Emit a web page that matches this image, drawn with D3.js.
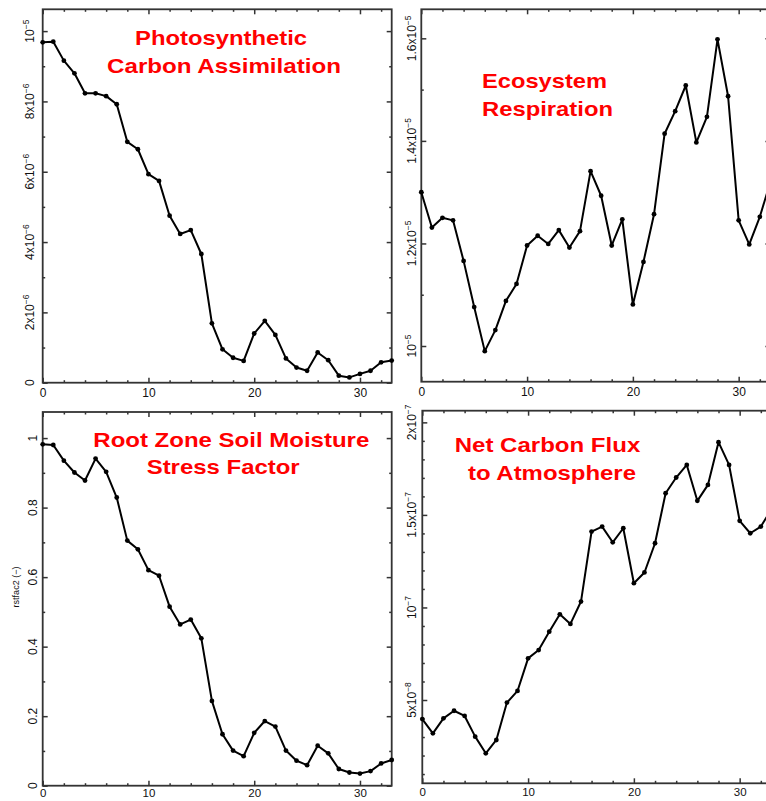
<!DOCTYPE html>
<html><head><meta charset="utf-8">
<script src="https://cdn.jsdelivr.net/npm/d3@7"></script>
<style>body{margin:0;background:#fff}svg{display:block}</style>
</head><body><svg id="chart" width="766" height="801"></svg>
<script>
// ---------- data ----------
const days = [0,1,2,3,4,5,6,7,8,9,10,11,12,13,14,15,16,17,18,19,20,21,22,23,24,25,26,27,28,29,30,31,32,33];

const photoValues = [9.68e-6,9.70e-6,9.16e-6,8.80e-6,8.23e-6,8.23e-6,8.15e-6,7.92e-6,6.85e-6,6.64e-6,5.93e-6,5.74e-6,4.75e-6,4.23e-6,4.34e-6,3.66e-6,1.69e-6,0.95e-6,0.71e-6,0.62e-6,1.40e-6,1.76e-6,1.36e-6,0.69e-6,0.43e-6,0.34e-6,0.86e-6,0.64e-6,0.20e-6,0.15e-6,0.25e-6,0.34e-6,0.58e-6,0.63e-6];

const respValues = [1.300e-5,1.231e-5,1.250e-5,1.245e-5,1.166e-5,1.076e-5,0.990e-5,1.031e-5,1.088e-5,1.121e-5,1.196e-5,1.215e-5,1.199e-5,1.226e-5,1.192e-5,1.224e-5,1.341e-5,1.293e-5,1.196e-5,1.247e-5,1.081e-5,1.164e-5,1.257e-5,1.414e-5,1.458e-5,1.508e-5,1.397e-5,1.447e-5,1.598e-5,1.487e-5,1.245e-5,1.198e-5,1.252e-5,1.320e-5];

const rstfacValues = [0.982,0.980,0.935,0.901,0.878,0.941,0.903,0.829,0.705,0.680,0.620,0.604,0.515,0.464,0.478,0.424,0.244,0.148,0.101,0.085,0.152,0.186,0.170,0.101,0.072,0.059,0.115,0.093,0.048,0.038,0.035,0.042,0.064,0.074];

const netValues = [3.97e-8,3.20e-8,4.01e-8,4.42e-8,4.14e-8,3.02e-8,2.12e-8,2.84e-8,4.86e-8,5.49e-8,7.25e-8,7.70e-8,8.69e-8,9.63e-8,9.11e-8,10.32e-8,14.10e-8,14.37e-8,13.52e-8,14.28e-8,11.31e-8,11.89e-8,13.47e-8,16.17e-8,17.02e-8,17.70e-8,15.76e-8,16.62e-8,18.93e-8,17.70e-8,14.68e-8,14.01e-8,14.37e-8,15.30e-8];

const xTickValues = [0,10,20,30];
const xTickLabels = ["0","10","20","30"];
const xMinorTicks = [2,4,6,8,12,14,16,18,22,24,26,28,32];

const photoTicks = [0,2e-6,4e-6,6e-6,8e-6,1e-5];
const photoTickLabels = ["0","2x10^−6","4x10^−6","6x10^−6","8x10^−6","10^−5"];
const photoMinor = [1e-6,3e-6,5e-6,7e-6,9e-6];

const respTicks = [1e-5,1.2e-5,1.4e-5,1.6e-5];
const respTickLabels = ["10^−5","1.2x10^−5","1.4x10^−5","1.6x10^−5"];
const respMinor = [1.1e-5,1.3e-5,1.5e-5];

const rstfacTicks = [0,0.2,0.4,0.6,0.8,1];
const rstfacTickLabels = ["0","0.2","0.4","0.6","0.8","1"];
const rstfacMinor = [0.1,0.3,0.5,0.7,0.9];

const netTicks = [5e-8,1e-7,1.5e-7,2e-7];
const netTickLabels = ["5x10^−8","10^−7","1.5x10^−7","2x10^−7"];
const netMinor = [1e-8,2e-8,3e-8,4e-8,6e-8,7e-8,8e-8,9e-8,1.1e-7,1.2e-7,1.3e-7,1.4e-7,1.6e-7,1.7e-7,1.8e-7,1.9e-7];

const photoTitle = ["Photosynthetic","Carbon Assimilation"];
const respTitle = ["Ecosystem","Respiration"];
const rstfacTitle = ["Root Zone Soil Moisture","Stress Factor"];
const netTitle = ["Net Carbon Flux","to Atmosphere"];
const rstfacAxisTitle = "rstfac2 (−)";

// ---------- drawing ----------
const svg = d3.select("#chart");
const FONT = "'Liberation Sans', Arial, Helvetica, sans-serif";
const AX = "#333";

function drawPanel(cfg) {
  const g = svg.append("g");
  const x = d3.scaleLinear().domain([0,33]).range([cfg.left, cfg.right]);
  const y = d3.scaleLinear().domain(cfg.yDomain).range([cfg.bottom, cfg.top]);

  const styleAxis = (sel, fs) => {
    sel.select(".domain").remove();
    sel.selectAll(".tick line").attr("stroke", AX).attr("stroke-width", 1.5);
    sel.selectAll("text").attr("font-family", FONT).attr("font-size", fs || 12).attr("fill", "#111");
  };

  // bottom
  g.append("g").attr("transform", `translate(0,${cfg.bottom})`)
    .call(d3.axisBottom(x).tickValues(xTickValues).tickSize(-5).tickPadding(cfg.xPad)
      .tickFormat((d,i) => xTickLabels[i])).call(styleAxis, cfg.xFont);
  g.append("g").attr("transform", `translate(0,${cfg.bottom})`)
    .call(d3.axisBottom(x).tickValues(xMinorTicks).tickSize(-2.5).tickFormat("")).call(styleAxis);
  // top
  g.append("g").attr("transform", `translate(0,${cfg.top})`)
    .call(d3.axisTop(x).tickValues(xTickValues).tickSize(-5).tickFormat("")).call(styleAxis);
  g.append("g").attr("transform", `translate(0,${cfg.top})`)
    .call(d3.axisTop(x).tickValues(xMinorTicks).tickSize(-2.5).tickFormat("")).call(styleAxis);
  // left
  g.append("g").attr("transform", `translate(${cfg.left},0)`)
    .call(d3.axisLeft(y).tickValues(cfg.yTicks).tickSize(-5).tickFormat("")).call(styleAxis);
  g.append("g").attr("transform", `translate(${cfg.left},0)`)
    .call(d3.axisLeft(y).tickValues(cfg.yMinor).tickSize(-2.5).tickFormat("")).call(styleAxis);
  // right
  g.append("g").attr("transform", `translate(${cfg.right},0)`)
    .call(d3.axisRight(y).tickValues(cfg.yTicks).tickSize(-5).tickFormat("")).call(styleAxis);
  g.append("g").attr("transform", `translate(${cfg.right},0)`)
    .call(d3.axisRight(y).tickValues(cfg.yMinor).tickSize(-2.5).tickFormat("")).call(styleAxis);

  // frame
  g.append("rect").attr("x", cfg.left).attr("y", cfg.top)
    .attr("width", cfg.right - cfg.left).attr("height", cfg.bottom - cfg.top)
    .attr("fill", "none").attr("stroke", AX).attr("stroke-width", 1.8);

  // rotated y tick labels with superscripts
  cfg.yTicks.forEach((v, i) => {
    const parts = cfg.yTickLabels[i].split("^");
    const lx = cfg.left - cfg.labelOffset, ly = y(v);
    const t = g.append("text")
      .attr("transform", `translate(${lx},${ly}) rotate(-90)`)
      .attr("text-anchor", "middle")
      .attr("font-family", FONT).attr("font-size", 12).attr("fill", "#111");
    t.append("tspan").text(parts[0]);
    if (parts[1]) t.append("tspan").attr("dy", -5).attr("font-size", 8.5).text(parts[1]);
  });

  // line + markers
  const pts = days.map((d, i) => [d, cfg.values[i]]);
  g.append("path").datum(pts)
    .attr("d", d3.line().x(d => x(d[0])).y(d => y(d[1])))
    .attr("fill", "none").attr("stroke", "#000").attr("stroke-width", 2)
    .attr("stroke-linejoin", "round");
  g.selectAll("circle.pt").data(pts).join("circle").attr("class", "pt")
    .attr("cx", d => x(d[0])).attr("cy", d => y(d[1])).attr("r", 2.4).attr("fill", "#000");

  // titles
  cfg.titles.forEach((s, i) => {
    const p = cfg.titlePos[i];
    g.append("text").attr("x", p[0]).attr("y", p[1])
      .attr("textLength", p[2]).attr("lengthAdjust", "spacingAndGlyphs")
      .attr("font-family", FONT).attr("font-weight", "bold").attr("font-size", 20.5)
      .attr("fill", "#ff0000").text(s);
  });
}

drawPanel({
  left: 42.7, right: 391.7, top: 9.3, bottom: 382.7, xPad: 5.5, xFont: 12,
  yDomain: [0, 1.062e-5], values: photoValues,
  yTicks: photoTicks, yTickLabels: photoTickLabels, yMinor: photoMinor, labelOffset: 8.7,
  titles: photoTitle, titlePos: [[135, 45, 172], [107, 72.5, 234]]
});
drawPanel({
  left: 421.3, right: 770.4, top: 9.3, bottom: 381.7, xPad: 5.5, xFont: 12,
  yDomain: [0.9304e-5, 1.6566e-5], values: respValues,
  yTicks: respTicks, yTickLabels: respTickLabels, yMinor: respMinor, labelOffset: 5,
  titles: respTitle, titlePos: [[482, 88.3, 125], [482, 116, 131]]
});
drawPanel({
  left: 42.7, right: 391.7, top: 412, bottom: 785.7, xPad: 3.5, xFont: 11.5,
  yDomain: [0, 1.075], values: rstfacValues,
  yTicks: rstfacTicks, yTickLabels: rstfacTickLabels, yMinor: rstfacMinor, labelOffset: 6,
  titles: rstfacTitle, titlePos: [[93.3, 446.7, 276], [146.7, 474, 153]]
});
drawPanel({
  left: 422.3, right: 771.4, top: 410.7, bottom: 783.3, xPad: 4.5, xFont: 11.5,
  yDomain: [0.5e-8, 2.063e-7], values: netValues,
  yTicks: netTicks, yTickLabels: netTickLabels, yMinor: netMinor, labelOffset: 6,
  titles: netTitle, titlePos: [[454.7, 452.3, 185.6], [468, 480, 168]]
});

// y-axis title for the soil moisture panel
svg.append("text")
  .attr("transform", "translate(19,587) rotate(-90)")
  .attr("text-anchor", "middle")
  .attr("font-family", FONT).attr("font-size", 9).attr("fill", "#111")
  .text(rstfacAxisTitle);
</script>
</body></html>
